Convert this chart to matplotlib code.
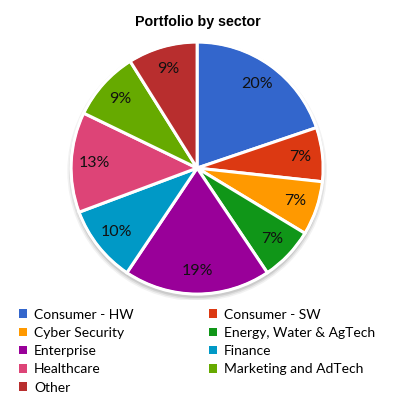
import matplotlib.pyplot as plt
from matplotlib.patches import Circle, Patch

sectors = ['Consumer - HW', 'Consumer - SW', 'Cyber Security', 'Energy, Water & AgTech',
           'Enterprise', 'Finance', 'Healthcare', 'Marketing and AdTech', 'Other']
shares = [20, 7, 7, 7, 19, 10, 13, 9, 9]
colors = ['#3366CC', '#DC3912', '#FF9900', '#109618', '#990099',
          '#0099C6', '#DD4477', '#66AA00', '#B82E2E']

fig = plt.figure(figsize=(3.95, 4.04), dpi=100)
ax = fig.add_axes([0.164, 0.256, 0.67, 0.656])

# soft shadow under the pie
for i, a in enumerate([0.05, 0.07, 0.09]):
    ax.add_patch(Circle((0, -0.025), 1.03 - i * 0.012, color='black', alpha=a,
                        lw=0, zorder=0))

wedges, texts = ax.pie(shares, colors=colors, startangle=90, counterclock=False,
                       labels=['%d%%' % v for v in shares], labeldistance=0.82,
                       wedgeprops=dict(edgecolor='white', linewidth=2.2),
                       textprops=dict(fontsize=11.5, family='Lato', color='#111111'))
for t in texts:
    t.set_horizontalalignment('center')
    t.set_verticalalignment('center')
for w in wedges:
    w.set_zorder(2)
ax.add_patch(Circle((0, 0), 1.0, fill=False, edgecolor='white', lw=1.5, zorder=3))
ax.set_xlim(-1.05, 1.05)
ax.set_ylim(-1.05, 1.05)
ax.set_aspect('equal')
ax.axis('off')

fig.text(0.5, 0.945, 'Portfolio by sector', ha='center', va='center',
         fontsize=10.3, fontweight='bold', family='Liberation Sans')

handles = [Patch(facecolor=c, edgecolor='none') for c in colors]
order = [0, 2, 4, 6, 8, 1, 3, 5, 7]
fig.legend([handles[i] for i in order], [sectors[i] for i in order],
           loc='upper left', bbox_to_anchor=(0.035, 0.25), ncol=2, frameon=False,
           prop=dict(family='Lato', size=10), handlelength=0.55, handleheight=0.55,
           handletextpad=0.5, columnspacing=5.45, labelspacing=0.45, borderaxespad=0)

fig.savefig('out.png', dpi=100)
